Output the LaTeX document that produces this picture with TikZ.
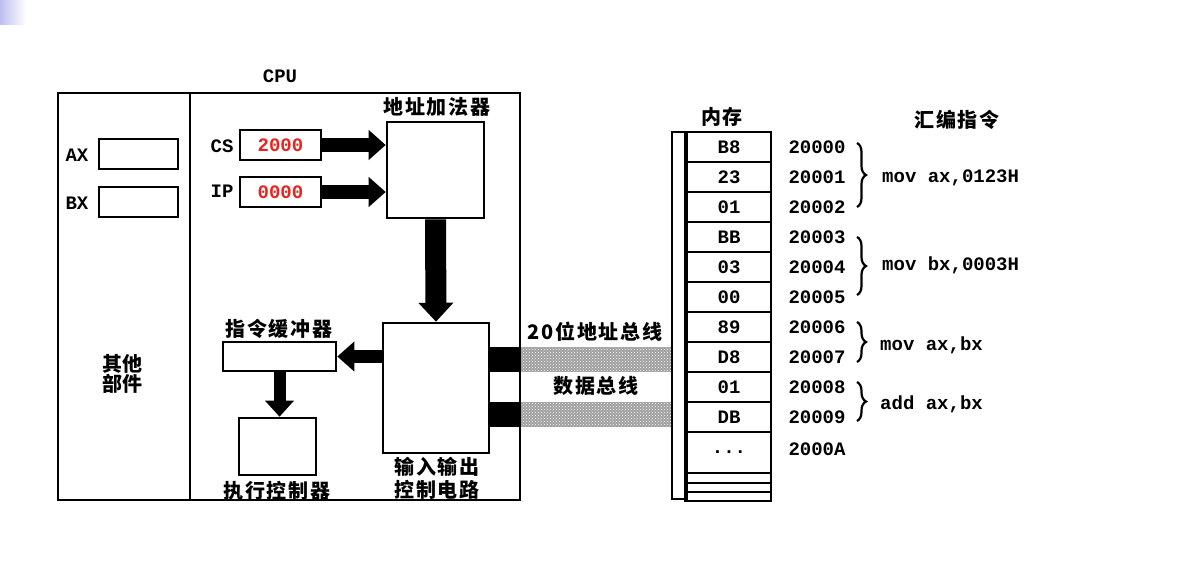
\documentclass[tikz,border=0pt]{standalone}
\usepackage{fontspec}
\newfontfamily\cnfam[LetterSpace=9]{Noto Sans CJK SC}
\newfontfamily\cntight{Noto Sans CJK SC}
\newfontfamily\monofam{Liberation Mono}
\usetikzlibrary{arrows.meta,decorations.pathreplacing,patterns}
\newcommand\latfont{\monofam\bfseries\fontsize{19}{22}\selectfont}
\newcommand\cnfont{\cnfam\bfseries\fontsize{20}{23}\selectfont}
\definecolor{regred}{RGB}{235,35,30}
\definecolor{cornerblue}{RGB}{190,190,238}
\tikzset{
  unit/.style={draw, line width=2.6pt, inner sep=0pt},
  cell/.style={draw, line width=2.2pt, minimum width=84pt, minimum height=30pt, inner sep=0pt, font=\latfont},
  cnlabel/.style={font=\cnfont, inner sep=1pt},
  enlabel/.style={font=\latfont, inner sep=1pt},
  fatarrow/.style={line width=14pt, -{Triangle[length=17pt,width=29pt]}},
  busbar/.style={fill=gray!75},
  busdots/.style={pattern=crosshatch dots, pattern color=white},
  curly/.style={decorate, decoration={brace, amplitude=9pt}, line width=2.2pt},
}
\begin{document}
\begin{tikzpicture}[x=1pt,y=-1pt]
\useasboundingbox (0,0) rectangle (1184,576);
\shade[left color=cornerblue, right color=white] (0,0) rectangle (26,24);
% cpu
\node[unit, minimum width=462pt, minimum height=407pt] (cpu) at (289,296.5) {};
\coordinate (split) at (190,0);
\draw[line width=2.6pt] (cpu.north -| split) -- (cpu.south -| split);
\node[enlabel] (cpulbl) at (280,76) {CPU};
\node[unit, minimum width=79pt, minimum height=30pt] (ax) at (138.5,154) {};
\node[enlabel] (axlbl) at (77,155) {AX};
\node[unit, minimum width=79pt, minimum height=30pt] (bx) at (138.5,202) {};
\node[enlabel] (bxlbl) at (77,203) {BX};
\node[cnlabel, font=\cntight\bfseries\fontsize{20}{19}\selectfont, align=center] (other) at (122,374) {其他\\部件};
\node[unit, minimum width=81pt, minimum height=30pt, font=\latfont, text=regred] (cs) at (280.5,145) {2000};
\node[enlabel] (cslbl) at (222,146) {CS};
\node[unit, minimum width=81pt, minimum height=30pt, font=\latfont, text=regred] (ip) at (280.5,192) {0000};
\node[enlabel] (iplbl) at (222,191) {IP};
\node[unit, minimum width=97pt, minimum height=96pt] (adder) at (435.5,170) {};
\node[cnlabel] (adderlbl) at (437,107) {地址加法器};
\node[unit, minimum width=106pt, minimum height=130pt] (io) at (436,388) {};
\node[cnlabel, align=center] (iolbl) at (437,478) {输入输出\\控制电路};
\node[unit, minimum width=113pt, minimum height=29pt] (buf) at (279.5,356.5) {};
\node[cnlabel] (buflbl) at (279,329) {指令缓冲器};
\node[unit, minimum width=77pt, minimum height=57pt] (exec) at (277.5,446.5) {};
\node[cnlabel] (execlbl) at (277,491) {执行控制器};
\draw[fatarrow] (cs.east) -- (cs.east -| adder.west);
\draw[fatarrow] (ip.east) -- (ip.east -| adder.west);
\draw[fatarrow, line width=21pt, -{Triangle[length=19pt,width=34pt]}] (adder.south) -- (io.north);
\draw[fatarrow, line width=13pt] (io.west |- buf) -- (buf.east);
\draw[fatarrow, line width=12pt, -{Triangle[length=16pt,width=28pt]}] (buf.south) -- (buf.south |- exec.north);
% memory
\node[draw, line width=2pt, minimum width=14pt, minimum height=367pt, inner sep=0pt] (memstrip) at (679,315.5) {};
\node[cnlabel] (memlbl) at (722,117) {内存};
\foreach \v [count=\i from 0] in {B8,23,01,BB,03,00,89,D8,01,DB}
  \node[cell] (m\i) at (729,147+30*\i) {\v};
\node[cell, minimum height=41pt] (mdots) at (729,452.5) {...};
\node[cell, minimum height=10pt] (mx1) at (729,478) {};
\node[cell, minimum height=9pt] (mx2) at (729,487.5) {};
\node[cell, minimum height=9pt] (mx3) at (729,496.5) {};
\draw[line width=4pt] (m0.north west) -- (mx3.south west);
\foreach \i in {0,...,9}
  \node[enlabel] (a\i) at (817,147+30*\i) {2000\i};
\node[enlabel] (aA) at (817,449) {2000A};
\node[cnlabel] (asmlbl) at (957,120) {汇编指令};
\draw[curly] (857,143) -- (857,207);
\draw[curly] (857,237) -- (857,295);
\draw[curly] (857,322) -- (857,362);
\draw[curly] (857,382) -- (857,421);
\node[enlabel, anchor=west] (ins0) at (881,178) {mov ax,0123H};
\node[enlabel, anchor=west] (ins1) at (881,265) {mov bx,0003H};
\node[enlabel, anchor=west] (ins2) at (879,345) {mov ax,bx};
\node[enlabel, anchor=west] (ins3) at (879,404) {add ax,bx};
% buses
\coordinate (abustop) at (0,347);
\coordinate (abusbot) at (0,372);
\coordinate (dbustop) at (0,402);
\coordinate (dbusbot) at (0,427);
\fill (io.east |- abustop) rectangle (cpu.east |- abusbot);
\fill (io.east |- dbustop) rectangle (cpu.east |- dbusbot);
\fill[busbar] (cpu.east |- abustop) rectangle (memstrip.west |- abusbot);
\fill[busdots] (cpu.east |- abustop) rectangle (memstrip.west |- abusbot);
\fill[busbar] (cpu.east |- dbustop) rectangle (memstrip.west |- dbusbot);
\fill[busdots] (cpu.east |- dbustop) rectangle (memstrip.west |- dbusbot);
\node[cnlabel] (abuslbl) at (595,332) {20位地址总线};
\node[cnlabel] (dbuslbl) at (596,386) {数据总线};
\end{tikzpicture}
\end{document}
